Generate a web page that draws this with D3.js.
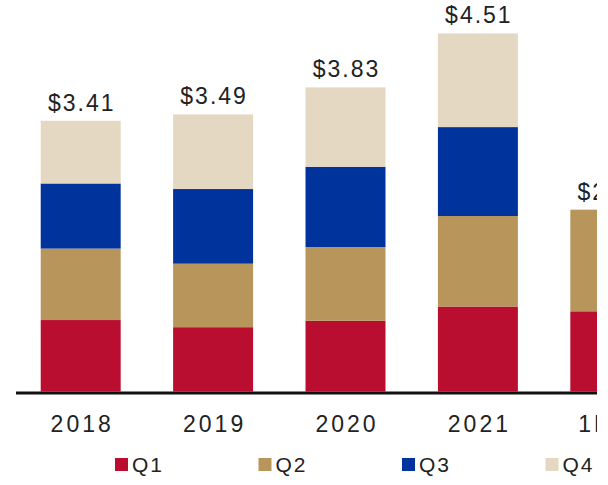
<!DOCTYPE html>
<html>
<head>
<meta charset="utf-8">
<script src="https://cdn.jsdelivr.net/npm/d3@7"></script>
<style>
  html, body { margin: 0; padding: 0; background: #fff; }
  svg { display: block; }
  text { font-family: "Liberation Sans", Arial, sans-serif; fill: #222; }
</style>
</head>
<body>
<svg id="chart" width="608" height="485"></svg>
<script>
(function () {
  "use strict";

  // periods on the x axis
  const periods = ["2018", "2019", "2020", "2021", "1H22"]
  const quarters = ["Q1", "Q2", "Q3", "Q4"]

  // dividend per quarter, $ (1H22 only has two quarters)
  const q1 = [0.90, 0.81, 0.89, 1.07, 1.01]
  const q2 = [0.90, 0.80, 0.93, 1.14, 1.28]
  const q3 = [0.82, 0.94, 1.01, 1.12, 0]
  const q4 = [0.79, 0.94, 1.00, 1.18, 0]
  const totals = [3.41, 3.49, 3.83, 4.51, 2.29]

  const colors = ["#b90e2f", "#b8955b", "#00339b", "#e5d8c2"]

  let svg = d3.select("#chart")

  // the source picture is cut off a little before the right edge
  svg.append("clipPath")
    .attr("id", "crop")
    .append("rect")
    .attr("width", 597)
    .attr("height", 485)

  let root = svg.append("g").attr("clip-path", "url(#crop)")

  let rows = periods.map(function (p, i) {
    return { period: p, Q1: q1[i], Q2: q2[i], Q3: q3[i], Q4: q4[i], total: totals[i] }
  })

  let x = d3.scaleBand()
    .domain(periods)
    .range([14.5, 676.5])
    .paddingInner(0.396)
    .paddingOuter(0.198)

  let y = d3.scaleLinear()
    .domain([0, 5])
    .range([391.5, 391.5 - 5 * 79.4])

  let color = d3.scaleOrdinal().domain(quarters).range(colors)

  let stacked = d3.stack().keys(quarters)(rows)

  root.append("g")
    .selectAll("g")
    .data(stacked)
    .join("g")
      .attr("fill", d => color(d.key))
    .selectAll("rect")
    .data(d => d)
    .join("rect")
      .attr("x", d => x(d.data.period))
      .attr("width", x.bandwidth())
      .attr("y", d => y(d[1]))
      .attr("height", d => y(d[0]) - y(d[1]))

  // total labels above bars
  root.append("g")
    .selectAll("text")
    .data(rows)
    .join("text")
      .attr("x", d => x(d.period) + x.bandwidth() / 2 + 1)
      .attr("y", d => y(d.total) - 10)
      .attr("text-anchor", "middle")
      .style("font-size", "23px")
      .style("letter-spacing", "2px")
      .text(d => "$" + d3.format(".2f")(d.total))

  // x axis
  let axis = root.append("g")
    .attr("transform", "translate(0,393)")
    .call(d3.axisBottom(x).tickSize(0).tickPadding(0))
  axis.select(".domain")
    .attr("d", "M16,0H608")
    .attr("stroke", "#111")
    .attr("stroke-width", 3)
  axis.selectAll(".tick text")
    .attr("y", 39)
    .attr("dy", null)
    .attr("dx", 1.5)
    .attr("fill", "#222")
    .style("font-family", "Liberation Sans, Arial, sans-serif")
    .style("font-size", "23px")
    .style("letter-spacing", "3px")

  // legend
  let legend = root.append("g")
    .selectAll("g")
    .data(quarters)
    .join("g")
      .attr("transform", (d, i) => "translate(" + (115 + i * 143.5) + ",458)")
  legend.append("rect")
    .attr("width", 13)
    .attr("height", 13)
    .attr("fill", d => color(d))
  legend.append("text")
    .attr("x", 17)
    .attr("y", 14)
    .style("font-size", "21px")
    .style("letter-spacing", "2px")
    .text(d => d)
})();
</script>
</body>
</html>
